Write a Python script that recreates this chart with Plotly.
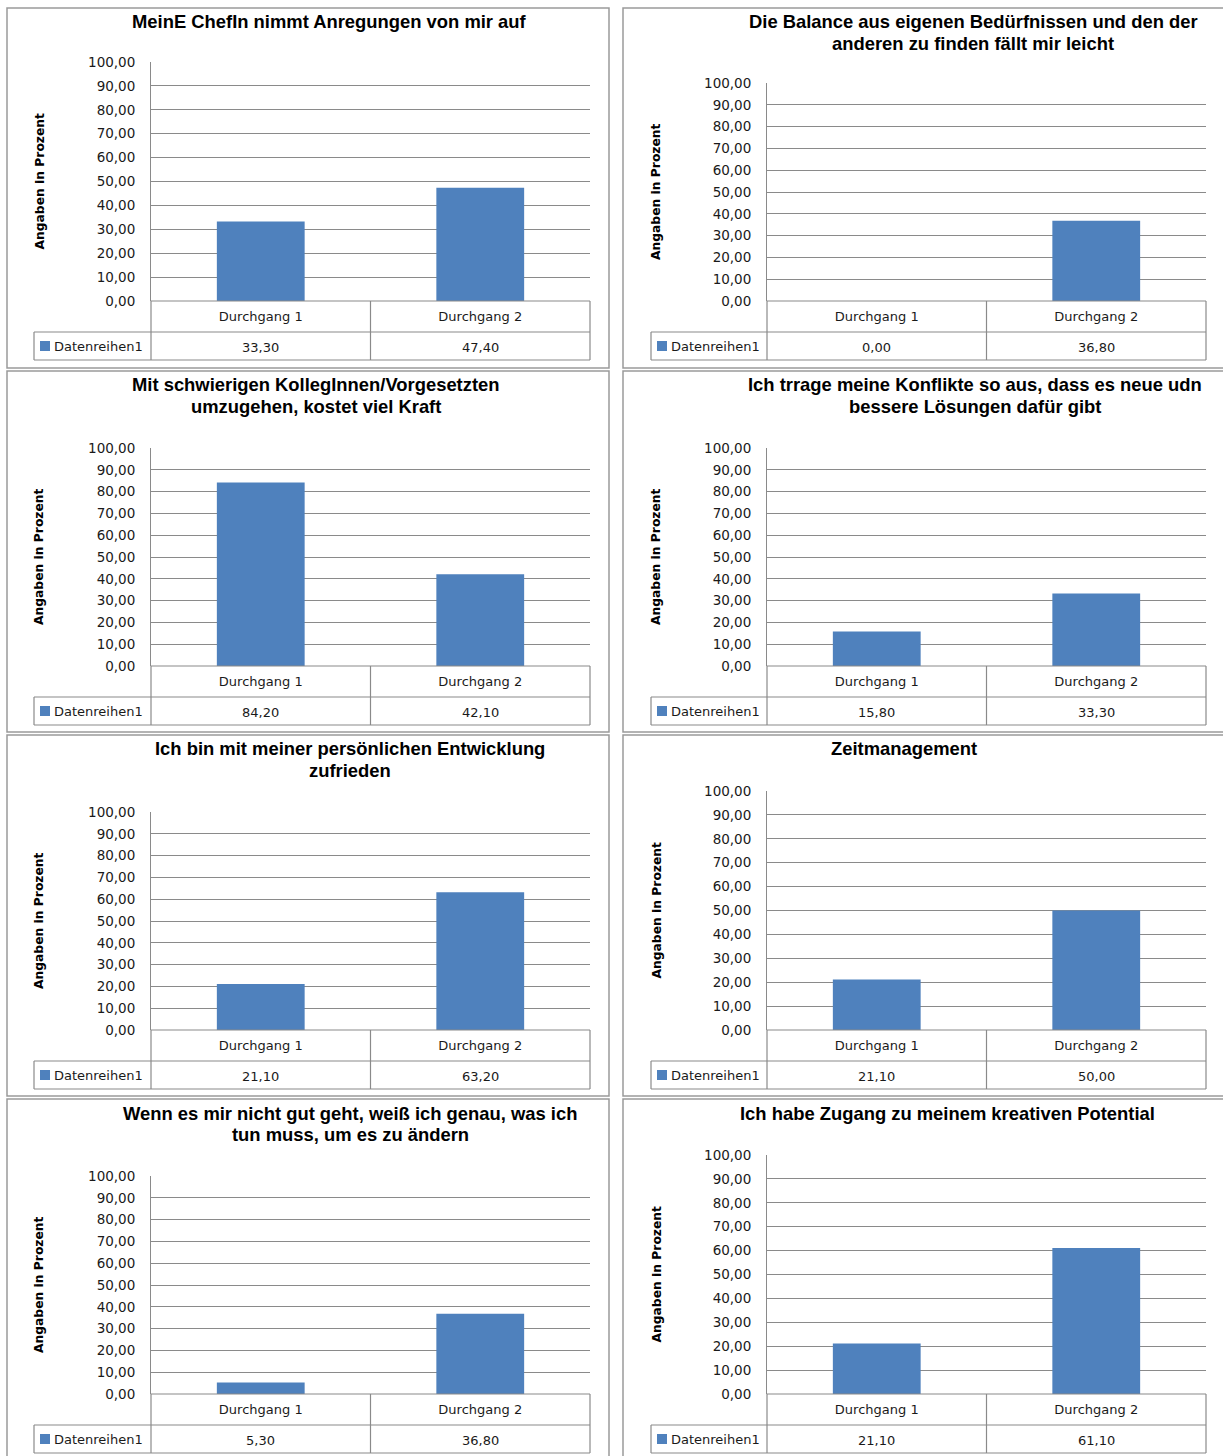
import plotly.graph_objects as go

W, H = 1223, 1456

# ---------------- data ----------------
titles = [
    "MeinE ChefIn nimmt Anregungen von mir auf",
    "Die Balance aus eigenen Bedürfnissen und den der<br>anderen zu finden fällt mir leicht",
    "Mit schwierigen KollegInnen/Vorgesetzten<br>umzugehen, kostet viel Kraft",
    "Ich trrage meine Konflikte so aus, dass es neue udn<br>bessere Lösungen dafür gibt",
    "Ich bin mit meiner persönlichen Entwicklung<br>zufrieden",
    "Zeitmanagement",
    "Wenn es mir nicht gut geht, weiß ich genau, was ich<br>tun muss, um es zu ändern",
    "Ich habe Zugang zu meinem kreativen Potential",
]
categories = ["Durchgang 1", "Durchgang 2"]
series_name = "Datenreihen1"
durchgang1 = [33.30, 0.00, 84.20, 15.80, 21.10, 21.10, 5.30, 21.10]
durchgang2 = [47.40, 36.80, 42.10, 33.30, 63.20, 50.00, 36.80, 61.10]
y_ticks = [0, 10, 20, 30, 40, 50, 60, 70, 80, 90, 100]
axis_title = "Angaben in Prozent"

# ---------------- layout geometry (pixels) ----------------
col_plot_x0 = [151, 767]
col_plot_x1 = [590, 1206]
col_table_x0 = [34, 651]
col_border = [(7, 609), (623, 1226)]
col_axis_title_x = [39, 656]
row_zero_y = [301, 666, 1030, 1394]
row_border = [(8, 368), (371, 732), (735, 1096), (1099, 1460)]
title_cx = [329, 973, 316, 975, 350, 904, 350, 947]

BLUE = "#4f81bd"
GRID = "#8a8a8a"
BORDER = "#9a9a9a"
TXT = "#1a1a1a"


def px(x):
    return x / W


def py(y):
    return 1 - y / H


fig = go.Figure()
shapes = []
annotations = []

for i in range(8):
    col, row = i % 2, i // 2
    ax = "" if i == 0 else str(i + 1)
    x0, x1 = col_plot_x0[col], col_plot_x1[col]
    y0 = row_zero_y[row]
    nlines = titles[i].count("<br>") + 1
    ytop = y0 - (239 if nlines == 1 else 218)
    values = [durchgang1[i], durchgang2[i]]

    fig.add_trace(go.Bar(
        x=categories, y=values, name=series_name,
        marker=dict(color=BLUE, line=dict(width=0)),
        xaxis="x" + ax, yaxis="y" + ax, showlegend=False,
        hoverinfo="x+y",
    ))

    fig.update_layout({
        "xaxis" + ax: dict(
            domain=[px(x0), px(x1)], anchor="y" + ax, type="category",
            categoryorder="array", categoryarray=categories,
            showline=False, showgrid=False, zeroline=False, ticks="",
            ticklabelstandoff=6, automargin=False,
            tickfont=dict(family="DejaVu Sans", size=13, color=TXT),
            fixedrange=True,
        ),
        "yaxis" + ax: dict(
            domain=[py(y0), py(ytop)], anchor="x" + ax,
            range=[0, 100], tickvals=y_ticks, tickformat=".2f",
            showgrid=True, gridcolor=GRID, gridwidth=1,
            showline=True, linecolor=GRID, linewidth=1,
            zeroline=False, ticks="", ticklabelstandoff=12, automargin=False,
            tickfont=dict(family="DejaVu Sans", size=13.5, color=TXT),
            fixedrange=True,
        ),
    })

    # panel border
    bx0, bx1 = col_border[col]
    by0, by1 = row_border[row]
    shapes.append(dict(type="rect", xref="paper", yref="paper",
                       x0=px(bx0), x1=px(bx1), y0=py(by1), y1=py(by0),
                       line=dict(color=BORDER, width=1.5)))

    # data table lines
    tx0 = col_table_x0[col]
    xm = (x0 + x1) / 2
    lines = [
        (x0, y0, x1, y0),
        (tx0, y0 + 31, x1, y0 + 31),
        (tx0, y0 + 59, x1, y0 + 59),
        (x0, y0, x0, y0 + 59),
        (xm, y0, xm, y0 + 59),
        (x1, y0, x1, y0 + 59),
        (tx0, y0 + 31, tx0, y0 + 59),
    ]
    for (a, b, c, d) in lines:
        shapes.append(dict(type="line", xref="paper", yref="paper",
                           x0=px(a), y0=py(b), x1=px(c), y1=py(d),
                           line=dict(color=GRID, width=1.2)))

    # legend key in the data table
    shapes.append(dict(type="rect", xref="paper", yref="paper",
                       x0=px(tx0 + 6), x1=px(tx0 + 16),
                       y0=py(y0 + 50), y1=py(y0 + 40),
                       fillcolor=BLUE, line=dict(width=0)))
    annotations.append(dict(
        text=series_name, xref="paper", yref="paper",
        x=px(tx0 + 18), y=py(y0 + 45), xanchor="left", yanchor="middle",
        showarrow=False, font=dict(family="DejaVu Sans", size=13, color=TXT)))

    # values in the data table
    for cat, v in zip(categories, values):
        annotations.append(dict(
            text=f"{v:.2f}".replace(".", ","), xref="x" + ax, yref="paper",
            x=cat, y=py(y0 + 46), xanchor="center", yanchor="middle",
            showarrow=False, font=dict(family="DejaVu Sans", size=13, color=TXT)))

    # axis title
    annotations.append(dict(
        text=axis_title, xref="paper", yref="paper",
        x=px(col_axis_title_x[col]), y=py((y0 + ytop) / 2),
        xanchor="center", yanchor="middle", textangle=-90, showarrow=False,
        font=dict(family="DejaVu Sans", size=12.3, color="#000", weight="bold")))

    # chart title (one annotation per line)
    for j, line in enumerate(titles[i].split("<br>")):
        annotations.append(dict(
            text=line, xref="paper", yref="paper",
            x=px(title_cx[i]), y=py(by0 + 14 + 21 * j),
            xanchor="center", yanchor="middle", showarrow=False,
            font=dict(family="Liberation Sans", size=18.4, color="#000", weight="bold")))

fig.update_layout(
    width=W, height=H, autosize=False,
    margin=dict(l=0, r=0, t=0, b=0, autoexpand=False),
    paper_bgcolor="white", plot_bgcolor="white",
    separators=",.",
    bargap=0.6,
    shapes=shapes, annotations=annotations,
    showlegend=False,
)

fig.write_html("out.html")
